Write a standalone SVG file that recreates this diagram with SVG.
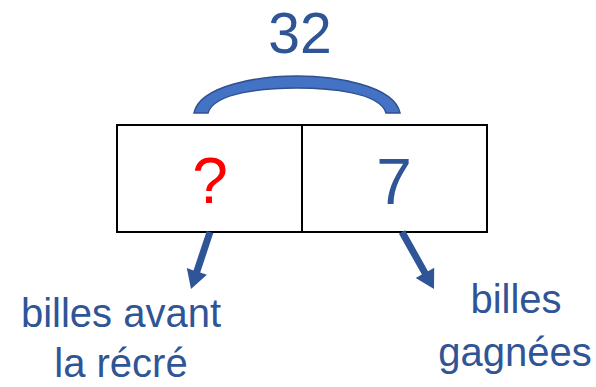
<svg xmlns="http://www.w3.org/2000/svg" width="596" height="387" viewBox="0 0 596 387">
<style>
.t{font-family:"Liberation Sans",Arial,sans-serif;fill:#2F5597;text-anchor:middle}
.cell{fill:#fff;stroke:#000;stroke-width:2}
.arr{fill:#2F5597}
</style>
<rect width="596" height="387" fill="#fff"/>
<g id="total">
<text class="t" x="300" y="53" font-size="57">32</text>
<path d="M194,113 C200,85 260,76 297,76 C334,76 394,85 400,113 L386,113 C380,92 328,88 297,88 C266,88 214,92 208,113 Z" fill="#4472C4" stroke="#2F528F" stroke-width="1.5"/>
</g>
<g id="cell-unknown">
<rect class="cell" x="117" y="125" width="185" height="107"/>
<text x="210" y="203" font-size="64" font-family="Liberation Sans, Arial, sans-serif" fill="#FF0000" text-anchor="middle">?</text>
</g>
<g id="cell-seven">
<rect class="cell" x="302" y="125" width="185" height="107"/>
<text class="t" x="394" y="204" font-size="64">7</text>
</g>
<g id="connectors">
<polygon class="arr" points="213.3,233.1 200.2,272.6 206.9,274.8 191,289 186.8,268.1 193.5,270.4 206.7,230.9"/>
<polygon class="arr" points="405.05,230.29 428.0,271.16 434.2,267.69 434,289 415.7,278.05 421.9,274.58 398.95,233.71"/>
</g>
<g id="label-avant">
<text class="t" x="121" y="327" font-size="40">billes avant</text>
<text class="t" x="121" y="377" font-size="40">la récré</text>
</g>
<g id="label-gagnees">
<text class="t" x="516" y="313" font-size="40">billes</text>
<text class="t" x="515" y="366" font-size="40">gagnées</text>
</g>
</svg>
